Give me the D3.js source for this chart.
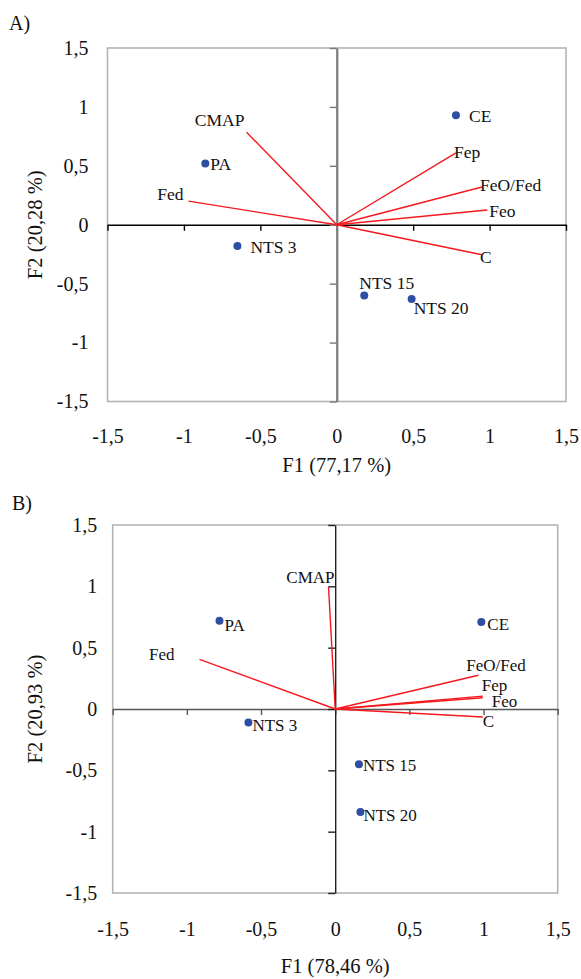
<!DOCTYPE html>
<html>
<head>
<meta charset="utf-8">
<script src="https://cdn.jsdelivr.net/npm/d3@7"></script>
<style>
	body { margin: 0; background: #fff; }
	svg text { font-family: 'Liberation Serif', 'Times New Roman', serif !important; fill: #111; }
</style>
</head>
<body>
<svg id="chart" width="581" height="979" font-family="Liberation Serif, serif"></svg>
<script>
// observations (blue dots)
const obsNames = ['PA', 'NTS 3', 'NTS 15', 'NTS 20', 'CE'];
const obsA_F1 = [-0.86, -0.65, 0.18, 0.49, 0.78];
const obsA_F2 = [0.52, -0.18, -0.60, -0.63, 0.93];
const obsB_F1 = [-0.78, -0.585, 0.16, 0.17, 0.985];
const obsB_F2 = [0.72, -0.11, -0.45, -0.84, 0.71];

// variables (red vectors)
const varNames = ['CMAP', 'Fed', 'Fep', 'FeO/Fed', 'Feo', 'C'];
const varA_F1 = [-0.59, -0.97, 0.78, 0.95, 0.985, 0.95];
const varA_F2 = [0.785, 0.20, 0.61, 0.32, 0.125, -0.255];
const varB_F1 = [-0.045, -0.915, 0.995, 0.965, 0.995, 0.995];
const varB_F2 = [0.995, 0.405, 0.105, 0.275, 0.092, -0.065];

const ticks = [-1.5, -1, -0.5, 0, 0.5, 1, 1.5];
const fmt = d => String(d).replace('.', ',');

const svg = d3.select('#chart');
const FONT = 'Liberation Serif, Times New Roman, serif';

// label offsets (px) from the mark, per panel
const offA = {
	'CMAP': [-27, -12, 'middle'], 'Fed': [-5, -7, 'end'], 'Fep': [-2, -1, 'start'],
	'FeO/Fed': [-2, -2, 'start'], 'Feo': [2, 1, 'start'], 'C': [-2, 2, 'start'],
	'PA': [5, 0, 'start'], 'NTS 3': [13, 1, 'start'], 'NTS 15': [-5, -13, 'start'],
	'NTS 20': [2, 9, 'start'], 'CE': [13, 1, 'start']
};
const offB = {
	'CMAP': [6, -10, 'end'], 'Fed': [-25, -5, 'end'], 'Fep': [-1, -11, 'start'],
	'FeO/Fed': [-12, -10.5, 'start'], 'Feo': [9, 3.5, 'start'], 'C': [0, 4.5, 'start'],
	'PA': [5, 4, 'start'], 'NTS 3': [4, 3, 'start'], 'NTS 15': [4, 1, 'start'],
	'NTS 20': [3, 3, 'start'], 'CE': [6, 2, 'start']
};

function drawPanel(p) {
	const x = d3.scaleLinear().domain([-1.5, 1.5]).range([p.left, p.right]);
	const y = d3.scaleLinear().domain([-1.5, 1.5]).range([p.bottom, p.top]);
	const g = svg.append('g');

	g.append('text').attr('x', p.tagX).attr('y', p.tagY)
		.style('font-size', '20px').text(p.tag);

	// frame
	g.append('rect')
		.attr('x', p.left).attr('y', p.top)
		.attr('width', p.right - p.left).attr('height', p.bottom - p.top)
		.attr('fill', 'none').attr('stroke', '#b4b4b4').attr('stroke-width', 1.6);

	// zero axes with ticks
	const hx = g.append('g').attr('transform', `translate(0,${y(0)})`)
		.call(d3.axisBottom(x).tickValues(ticks).tickSizeInner(6).tickSizeOuter(0).tickFormat(''));
	hx.selectAll('path,line').attr('stroke', p.hColor).attr('stroke-width', 1.4);

	const vy = g.append('g').attr('transform', `translate(${x(0)},0)`)
		.call(d3.axisLeft(y).tickValues(ticks).tickSizeInner(7).tickSizeOuter(0).tickFormat(''));
	vy.selectAll('path,line').attr('stroke', p.vColor).attr('stroke-width', 1.4);
	vy.select('path').attr('stroke-width', p.vWidth);

	// tick labels on the frame edges
	const bx = g.append('g').attr('transform', `translate(0,${p.bottom})`)
		.call(d3.axisBottom(x).tickValues(ticks).tickSize(0).tickPadding(p.xPad).tickFormat(fmt));
	bx.select('.domain').remove();
	bx.attr('font-family', FONT).attr('font-size', 20);

	const ly = g.append('g').attr('transform', `translate(${p.left},0)`)
		.call(d3.axisLeft(y).tickValues(ticks).tickSize(0).tickPadding(p.yPad).tickFormat(fmt));
	ly.select('.domain').remove();
	ly.attr('font-family', FONT).attr('font-size', 20);

	// axis titles
	g.append('text').attr('x', x(0)).attr('y', p.xTitleY)
		.attr('text-anchor', 'middle').style('font-size', '20.5px').text(p.xTitle);
	g.append('text')
		.attr('transform', `translate(${p.yTitleX},${y(0)}) rotate(-90)`)
		.attr('text-anchor', 'middle').style('font-size', '20.5px').text(p.yTitle);

	// vectors
	const vars = varNames.map((n, i) => ({ n, f1: p.v1[i], f2: p.v2[i] }));
	g.selectAll('line.vec').data(vars).enter().append('line')
		.attr('class', 'vec')
		.attr('x1', x(0)).attr('y1', y(0))
		.attr('x2', d => x(d.f1)).attr('y2', d => y(d.f2))
		.attr('stroke', '#f5191e').attr('stroke-width', 1.4);

	g.selectAll('text.vlab').data(vars).enter().append('text')
		.attr('class', 'vlab')
		.attr('x', d => x(d.f1) + p.off[d.n][0])
		.attr('y', d => y(d.f2) + p.off[d.n][1])
		.attr('dy', '0.35em')
		.attr('text-anchor', d => p.off[d.n][2])
		.style('font-size', p.labSize)
		.text(d => d.n);

	// observations
	const obs = obsNames.map((n, i) => ({ n, f1: p.o1[i], f2: p.o2[i] }));
	g.selectAll('circle').data(obs).enter().append('circle')
		.attr('cx', d => x(d.f1)).attr('cy', d => y(d.f2)).attr('r', 4)
		.attr('fill', '#2d4ea3');

	g.selectAll('text.olab').data(obs).enter().append('text')
		.attr('class', 'olab')
		.attr('x', d => x(d.f1) + p.off[d.n][0])
		.attr('y', d => y(d.f2) + p.off[d.n][1])
		.attr('dy', '0.35em')
		.attr('text-anchor', d => p.off[d.n][2])
		.style('font-size', p.labSize)
		.text(d => d.n);
}

drawPanel({
	tag: 'A)', tagX: 9, tagY: 30,
	left: 107.5, right: 566, top: 48, bottom: 401.5,
	xPad: 27, yPad: 19, xTitleY: 472, yTitleX: 42,
	xTitle: 'F1 (77,17 %)', yTitle: 'F2 (20,28 %)',
	hColor: '#000', vColor: '#7a7a7a', vWidth: 2.2, labSize: '17.5px',
	o1: obsA_F1, o2: obsA_F2, v1: varA_F1, v2: varA_F2, off: offA
});

drawPanel({
	tag: 'B)', tagX: 12, tagY: 510,
	left: 112.7, right: 557.7, top: 525, bottom: 893,
	xPad: 28.5, yPad: 15.5, xTitleY: 973, yTitleX: 42,
	xTitle: 'F1 (78,46 %)', yTitle: 'F2 (20,93 %)',
	hColor: '#555', vColor: '#222', vWidth: 1.4, labSize: '17px',
	o1: obsB_F1, o2: obsB_F2, v1: varB_F1, v2: varB_F2, off: offB
});
</script>
</body>
</html>
